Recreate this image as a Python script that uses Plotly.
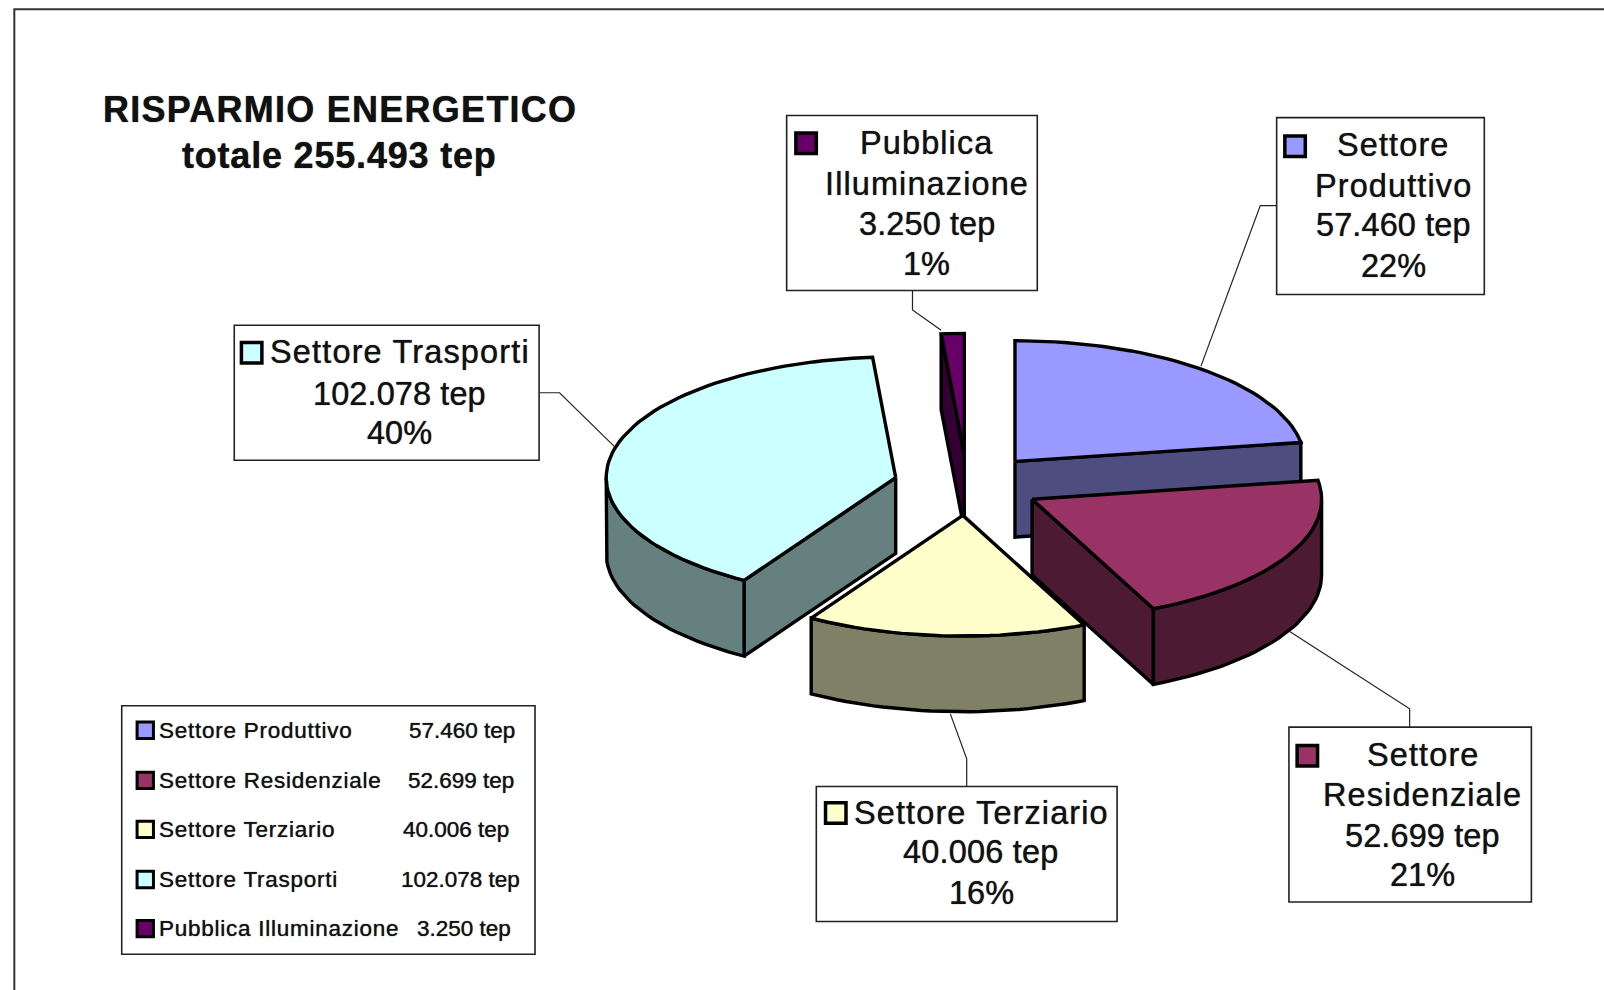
import math
import plotly.graph_objects as go

# ---- data -------------------------------------------------------------
categories = ["Settore Produttivo", "Settore Residenziale", "Settore Terziario",
              "Settore Trasporti", "Pubblica Illuminazione"]
values = [57460, 52699, 40006, 102078, 3250]
total_label = "totale 255.493 tep"
title_label = "RISPARMIO ENERGETICO"
top_colors = ["#9999FF", "#993366", "#FFFFCC", "#CCFFFF", "#660066"]
side_colors = ["#4D4D80", "#4D1A33", "#808066", "#668080", "#330033"]

# ---- layout constants (in the units of the shrunk reference) ----------
W, H = 1568, 968
CX, CY, RX, RY, DEPTH, EXPLODE = 945.5, 474, 283, 118, 74, 0.254
draw_order = [0, 4, 3, 1, 2]
FONT = "Liberation Sans"
LABEL_SIZE = 32.5
LEGEND_SIZE = 22.5


def tep(v):
    return f"{v:,}".replace(",", ".") + " tep"


total = sum(values)
starts, acc = [], 0.0
for v in values:
    starts.append(acc)
    acc += v / total * 360.0


def arc(a0, a1, cx, cy):
    n = max(2, int(abs(a1 - a0) / 2) + 2)
    pts = []
    for i in range(n):
        t = math.radians(a0 + (a1 - a0) * i / (n - 1))
        pts.append((cx + RX * math.sin(t), cy - RY * math.cos(t)))
    return pts


def poly(fig, pts, fill, lw=3.4):
    xs = [p[0] for p in pts] + [pts[0][0]]
    ys = [p[1] for p in pts] + [pts[0][1]]
    fig.add_trace(go.Scatter(x=xs, y=ys, mode="lines", fill="toself", fillcolor=fill,
                             line=dict(color="#000000", width=lw, shape="linear"),
                             hoverinfo="skip", showlegend=False))


fig = go.Figure()

for i in draw_order:
    a0 = starts[i]
    a1 = a0 + values[i] / total * 360.0
    mid = math.radians((a0 + a1) / 2)
    ax = CX + EXPLODE * RX * math.sin(mid)
    ay = CY - EXPLODE * RY * math.cos(mid)
    # radial faces turned towards the viewer
    for ang, sign in ((a0, -1), (a1, 1)):
        if sign * math.sin(math.radians(ang)) > 1e-6:
            t = math.radians(ang)
            ex, ey = ax + RX * math.sin(t), ay - RY * math.cos(t)
            poly(fig, [(ax, ay), (ex, ey), (ex, ey + DEPTH), (ax, ay + DEPTH)], side_colors[i])
    # outer rim, front half only
    r0, r1 = max(a0, 90.0), min(a1, 270.0)
    if r1 > r0:
        top = arc(r0, r1, ax, ay)
        poly(fig, top + [(x, y + DEPTH) for x, y in reversed(top)], side_colors[i])
    # top face
    poly(fig, [(ax, ay)] + arc(a0, a1, ax, ay), top_colors[i])

# ---- label boxes -------------------------------------------------------
pct = [f"{round(v / total * 100)}%" for v in values]
boxes = {
    0: dict(rect=(1248, 115, 1451, 288), key=(1266, 143), cx=1362,
            lines=[("Settore", 142, 1.1), ("Produttivo", 182, 1.1), (tep(values[0]), 220, 0.1), (pct[0], 260, 0)],
            leader=[(1248, 201), (1232, 201), (1174, 358)]),
    1: dict(rect=(1260, 711, 1497, 882), key=(1278, 739), cx=1391,
            lines=[("Settore", 738, 1.1), ("Residenziale", 777, 1.1), (tep(values[1]), 817, 0.1), (pct[1], 856, 0)],
            leader=[(1378, 711), (1378, 693), (1260, 617)]),
    2: dict(rect=(798, 769, 1092, 901), key=(817, 795), cx=959,
            lines=[(categories[2], 795, 1.1), (tep(values[2]), 833, 0.2), (pct[2], 873, 0)],
            leader=[(945, 769), (945, 742), (929, 698)]),
    3: dict(rect=(229, 318, 527, 450), key=(246, 345), cx=391,
            lines=[(categories[3], 344, 1.15), (tep(values[3]), 385, 0.1), (pct[3], 423, 0)],
            leader=[(527, 384), (547, 384), (601, 437)]),
    4: dict(rect=(769, 113, 1014, 284), key=(788, 140), cx=906,
            lines=[("Pubblica", 140, 1.1), ("Illuminazione", 180, 1.1), (tep(values[4]), 219, 0.1), (pct[4], 258, 0)],
            leader=[(892, 284), (892, 303), (920, 323)]),
}

shapes, annos = [], []


def rect(x0, y0, x1, y1, color="#222222", width=1.6, fill="rgba(0,0,0,0)"):
    shapes.append(dict(type="rect", xref="x", yref="y", x0=x0, y0=y0, x1=x1, y1=y1,
                       line=dict(color=color, width=width), fillcolor=fill, layer="above"))


def text(x, y, s, size, anchor="center", bold=False, spacing=0.0):
    body = f"<span style='letter-spacing:{spacing}px'>{s}</span>" if spacing else s
    annos.append(dict(x=x, y=y, xref="x", yref="y", text=f"<b>{body}</b>" if bold else body, showarrow=False,
                      xanchor=anchor, yanchor="middle", borderpad=0,
                      font=dict(family=FONT, size=size, color="#111111",
                                shadow="0 0 1px rgba(0,0,0,0.8)")))


for i, b in boxes.items():
    lx = [p[0] for p in b["leader"]]
    ly = [p[1] for p in b["leader"]]
    fig.add_trace(go.Scatter(x=lx, y=ly, mode="lines", line=dict(color="#222222", width=1.2),
                             hoverinfo="skip", showlegend=False))
    rect(*b["rect"])
    kx, ky = b["key"]
    rect(kx - 10, ky - 10, kx + 10, ky + 10, color="#000000", width=3.5, fill=top_colors[i])
    for s, y, sp in b["lines"]:
        text(b["cx"], y, s, LABEL_SIZE, spacing=sp)

# ---- title -------------------------------------------------------------
text(332, 107, title_label, 36, bold=True, spacing=1.25)
text(332, 152, total_label, 36, bold=True, spacing=0.8)

# ---- legend box --------------------------------------------------------
rect(119, 690, 523, 933)
legend_y = [714, 763, 811, 860, 908]
legend_value_x = [452, 451, 446, 450, 454]
for i, name in enumerate(categories):
    y = legend_y[i]
    rect(134, y - 8, 150, y + 8, color="#000000", width=3, fill=top_colors[i])
    text(154, y, name, LEGEND_SIZE, anchor="left", spacing=0.75)
    text(legend_value_x[i], y, tep(values[i]), LEGEND_SIZE)

# ---- outer frame (runs off the right and bottom of the page) -----------
rect(14, 9, W + 40, H + 40, color="#333333", width=2)

fig.update_layout(
    width=1604, height=990, margin=dict(l=0, r=0, t=0, b=0, pad=0),
    paper_bgcolor="#FFFFFF", plot_bgcolor="#FFFFFF", showlegend=False,
    xaxis=dict(range=[0, W], visible=False, fixedrange=True),
    yaxis=dict(range=[H, 0], visible=False, fixedrange=True),
    shapes=shapes, annotations=annos,
)
fig.write_html("out.html", config={"displayModeBar": False},
               post_script="document.body.style.margin='0';document.body.style.overflow='hidden';")
